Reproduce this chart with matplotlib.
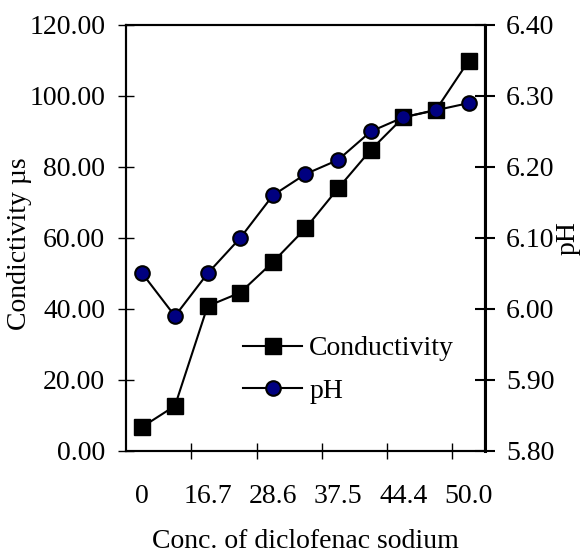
import matplotlib
matplotlib.use("Agg")
import matplotlib.pyplot as plt
from matplotlib.lines import Line2D

plt.rcParams['font.family'] = ['Liberation Serif', 'DejaVu Serif']

# diclofenac sodium concentration categories (every other one labelled)
conc = ['0', '9.1', '16.7', '23.1', '28.6', '33.3', '37.5', '41.2', '44.4', '47.4', '50.0']
conductivity = [6.8, 12.7, 40.8, 44.6, 53.2, 62.7, 74.0, 84.8, 94.0, 96.1, 109.9]
ph = [6.05, 5.99, 6.05, 6.10, 6.16, 6.19, 6.21, 6.25, 6.27, 6.28, 6.29]
cond_ticks = [0, 20, 40, 60, 80, 100, 120]
ph_ticks = [5.8, 5.9, 6.0, 6.1, 6.2, 6.3, 6.4]

FS = 20

fig = plt.figure(figsize=(5.82, 5.58), dpi=100)
ax = fig.add_axes([0.2165, 0.1918, 0.6168, 0.7634])
ax2 = ax.twinx()

x = list(range(len(conc)))
ax.plot(x, conductivity, color='black', lw=1.5, marker='s', markersize=11,
        markerfacecolor='black', markeredgecolor='black', zorder=3)
ax2.plot(x, ph, color='black', lw=1.5, marker='o', markersize=10.5,
         markerfacecolor='#000080', markeredgecolor='black', markeredgewidth=1.5, zorder=3)

ax.set_xlim(-0.5, len(conc) - 0.5)
ax.set_ylim(0, 120)
ax.set_yticks(cond_ticks)
ax.set_yticklabels([f'{v:.2f}' for v in cond_ticks], fontsize=FS)
ax2.set_ylim(5.8, 6.4)
ax2.set_yticks(ph_ticks)
ax2.set_yticklabels([f'{v:.2f}' for v in ph_ticks], fontsize=FS)

# tick marks between category pairs, labels centred on every other category
ax.set_xticks([1.5, 3.5, 5.5, 7.5, 9.5])
ax.set_xticklabels([])
ax.set_xticks(x[::2], minor=True)
ax.set_xticklabels(conc[::2], minor=True, fontsize=FS)
ax.tick_params(axis='x', which='major', direction='inout', length=12, width=1)
ax.tick_params(axis='x', which='minor', length=0, pad=24)

ax.tick_params(axis='y', direction='inout', length=12, width=1, pad=9)
ax2.tick_params(axis='y', direction='inout', length=14, width=1.5, pad=8)

for s in ax.spines.values():
    s.set_linewidth(1.5)
for s in ax2.spines.values():
    s.set_linewidth(1.5)
ax2.spines['right'].set_linewidth(2.2)

ax.set_xlabel('Conc. of diclofenac sodium', fontsize=FS, labelpad=14)
ax.set_ylabel('Condictivity µs', fontsize=FS)
ax.yaxis.set_label_coords(-0.262, 0.486)
ax2.set_ylabel('pH', fontsize=FS, labelpad=1)

handles = [
    Line2D([], [], color='black', lw=1.5, marker='s', markersize=11,
           markerfacecolor='black', markeredgecolor='black'),
    Line2D([], [], color='black', lw=1.5, marker='o', markersize=10.5,
           markerfacecolor='#000080', markeredgecolor='black', markeredgewidth=1.5),
]
ax2.legend(handles, ['Conductivity', 'pH'], loc='upper left', bbox_to_anchor=(0.325, 0.27),
           frameon=False, fontsize=FS, handlelength=2.15, handletextpad=0.25,
           labelspacing=0.6, borderpad=0, borderaxespad=0)

fig.savefig('out.png', dpi=100)
